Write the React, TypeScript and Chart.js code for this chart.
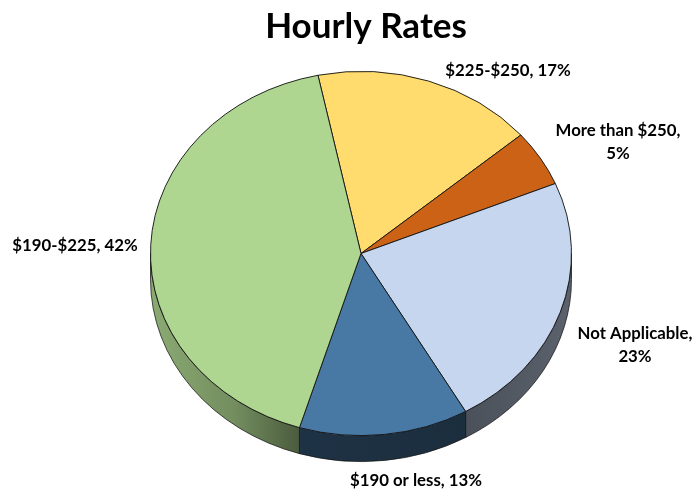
import React, { useEffect, useRef } from "react";
import { Chart, registerables } from "chart.js";

Chart.register(...registerables);

const titleText = "Hourly Rates";
const categories = ["$225-$250", "More than $250", "Not Applicable", "$190 or less", "$190-$225"];
const shares = [17, 5, 23, 13, 42];
const sliceColors = ["#FFDC6D", "#CB6216", "#C5D6EE", "#4878A4", "#AED690"];

// label centre x / first-line centre y, and whether the percentage wraps (same order as categories)
const labelPlaces = [
  { x: 508, y: 71, wrap: false },
  { x: 618, y: 131, wrap: true },
  { x: 635, y: 334, wrap: true },
  { x: 416, y: 481, wrap: false },
  { x: 75, y: 246, wrap: false },
];

const CX = 361;
const CY = 253.5;
const SQUASH = 0.865;
const DEPTH = 26;
const FONT = "Lato, Carlito, sans-serif";

function hexToRgb(h: string) {
  return [1, 3, 5].map((i) => parseInt(h.slice(i, i + 2), 16));
}
function shade(h: string, m: number) {
  const [r, g, b] = hexToRgb(h);
  return `rgb(${Math.round(r * m)},${Math.round(g * m)},${Math.round(b * m)})`;
}

const pie3d = {
  id: "pie3d",
  beforeDatasetsDraw(chart: any) {
    const { ctx } = chart;
    const arcs = chart.getDatasetMeta(0).data;
    const first = arcs[0];
    ctx.save();
    ctx.translate(CX - first.x, CY - first.y * SQUASH);
    ctx.translate(first.x, 0);
    ctx.scale(1, SQUASH);
    ctx.translate(-first.x, 0);
    const d = DEPTH / SQUASH;
    arcs.forEach((a: any, i: number) => {
      const s = Math.max(a.startAngle, 0);
      const e = Math.min(a.endAngle, Math.PI);
      if (e <= s) return;
      const R = a.outerRadius;
      const g = ctx.createLinearGradient(a.x - R, 0, a.x + R, 0);
      const c = sliceColors[i];
      g.addColorStop(0, shade(c, 0.8));
      g.addColorStop(0.2, shade(c, 0.66));
      g.addColorStop(0.36, shade(c, 0.42));
      g.addColorStop(0.75, shade(c, 0.38));
      g.addColorStop(1, shade(c, 0.46));
      ctx.beginPath();
      ctx.arc(a.x, a.y, R, s, e);
      ctx.arc(a.x, a.y + d, R, e, s, true);
      ctx.closePath();
      ctx.fillStyle = g;
      ctx.fill();
      ctx.strokeStyle = "#141414";
      ctx.lineWidth = 0.8;
      ctx.stroke();
    });
  },
  afterDatasetsDraw(chart: any) {
    const { ctx } = chart;
    ctx.restore();
    ctx.save();
    ctx.fillStyle = "#000";
    ctx.textAlign = "center";
    ctx.textBaseline = "middle";
    ctx.font = `700 35px ${FONT}`;
    ctx.fillText(titleText, 366, 27);
    ctx.font = `700 16.8px ${FONT}`;
    categories.forEach((name, i) => {
      const p = labelPlaces[i];
      if (p.wrap) {
        ctx.fillText(`${name},`, p.x, p.y);
        ctx.fillText(`${shares[i]}%`, p.x, p.y + 23);
      } else {
        ctx.fillText(`${name}, ${shares[i]}%`, p.x, p.y);
      }
    });
    ctx.restore();
  },
};

export default function App() {
  const ref = useRef<HTMLCanvasElement>(null);
  useEffect(() => {
    document.body.style.margin = "0";
    const chart = new Chart(ref.current!, {
      type: "pie",
      data: {
        labels: categories,
        datasets: [
          {
            data: shares,
            backgroundColor: sliceColors,
            borderColor: "#141414",
            borderWidth: 1,
            borderAlign: "center",
          } as any,
        ],
      },
      options: {
        responsive: false,
        animation: false,
        rotation: -11.8,
        layout: { padding: { left: 150, right: 125, top: 30, bottom: 39 } },
        plugins: { legend: { display: false }, tooltip: { enabled: false }, title: { display: false } },
      },
      plugins: [pie3d],
    });
    return () => chart.destroy();
  }, []);
  return (
    <div style={{ width: 697, height: 491, background: "#fff" }}>
      <canvas ref={ref} width={697} height={491} style={{ display: "block" }} />
    </div>
  );
}
